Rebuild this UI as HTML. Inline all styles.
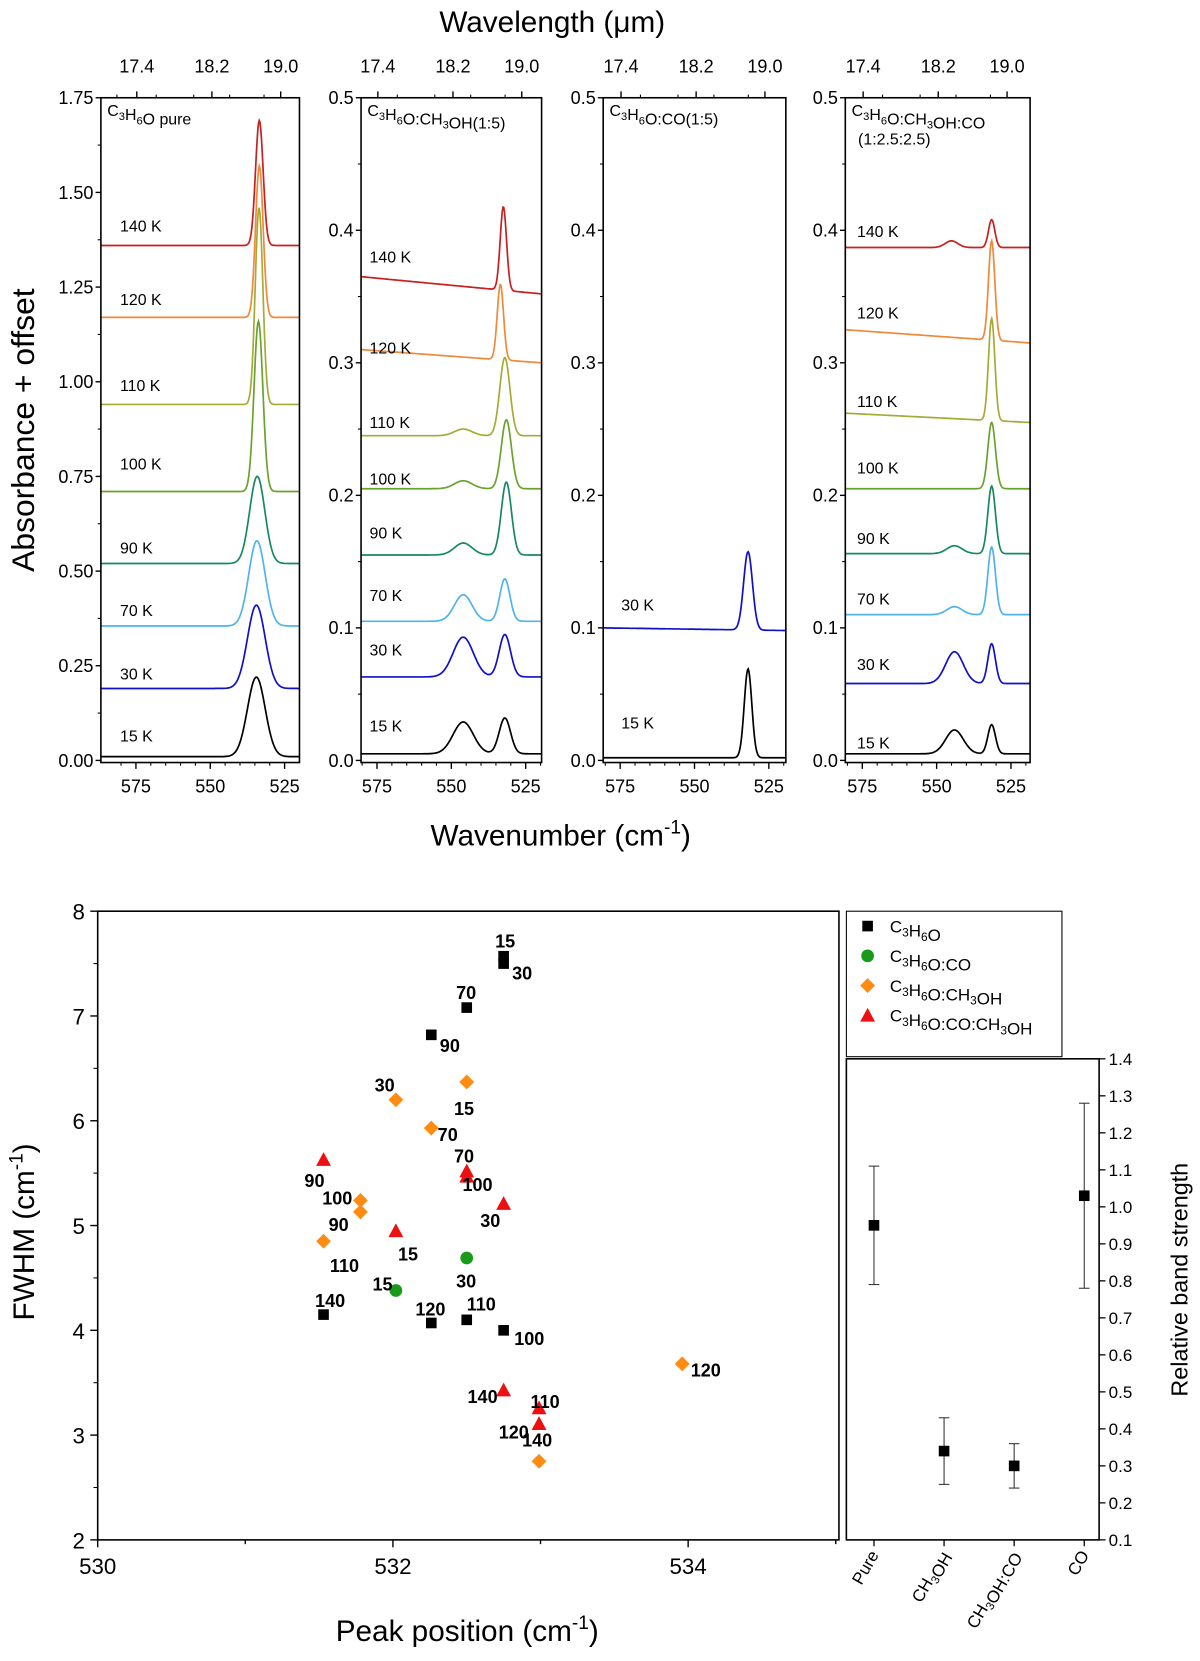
<!DOCTYPE html>
<html><head><meta charset="utf-8"><style>
html,body{margin:0;padding:0;background:#fff}
svg{display:block;font-family:"Liberation Sans",Arial,sans-serif}
</style></head><body>
<svg id="fig" width="1200" height="1661" viewBox="0 0 1130 1564">
<g id="topg"></g>
<g id="bot"></g>
</svg>
<script>
// ===== Top spectra data =====
const tempLabels=["15 K","30 K","70 K","90 K","100 K","110 K","120 K","140 K"];
const tempColors=["#000000","#1010c8","#50b4ec","#168a5e","#6aa22e","#a6ab36","#ef8a3a","#c8201e"];
// each series: [baselineLeft, baselineRight, peaks [[center,height,fwhm],...]]
const purePeaks=[[0.01,0.01,[[534.5,0.21,7]]],[0.19,0.19,[[534.5,0.22,7]]],[0.355,0.355,[[534.3,0.225,6.5]]],[0.52,0.52,[[534.2,0.23,6]]],[0.71,0.71,[[533.8,0.45,3.5]]],[0.94,0.94,[[533.6,0.52,3]]],[1.17,1.17,[[533.5,0.40,3]]],[1.36,1.36,[[533.5,0.33,3]]]];
const methPeaks=[[0.005,0.005,[[546,0.024,8],[532,0.027,4.5]]],[0.063,0.063,[[546,0.03,8],[532,0.032,4.5]]],[0.105,0.105,[[546,0.02,7],[532,0.032,4]]],[0.155,0.155,[[546,0.009,7],[531.5,0.055,4]]],[0.205,0.205,[[546,0.006,7],[531.5,0.052,4]]],[0.245,0.245,[[546,0.005,7],[532,0.059,4]]],[0.31,0.30,[[533.5,0.057,2.5]]],[0.365,0.352,[[532.5,0.063,2.5]]]];
const coPeaks=[[0.002,0.002,[[532,0.067,3]]],[0.1,0.098,[[532,0.059,3.5]]]];
const mixPeaks=[[0.005,0.005,[[544,0.018,7],[531.5,0.022,3]]],[0.058,0.058,[[544,0.024,7],[531.5,0.03,3]]],[0.11,0.11,[[544,0.006,6],[531.5,0.051,3]]],[0.156,0.156,[[544,0.006,6],[531.5,0.051,3]]],[0.205,0.205,[[531.5,0.05,3]]],[0.262,0.255,[[531.5,0.077,2.5]]],[0.325,0.315,[[531.5,0.075,2.5]]],[0.387,0.387,[[531.5,0.021,2.5],[545,0.005,5]]]];
const pureTicks=["0.00","0.25","0.50","0.75","1.00","1.25","1.50","1.75"];
const smallTicks=["0.0","0.1","0.2","0.3","0.4","0.5"];
const wnTicks=[575,550,525];
const wlTicks=[17.4,18.2,19.0];

// ===== Bottom chart data =====
const pureX=[532.75,532.75,532.5,532.26,531.53,532.26,532.5,532.75];
const pureY=[7.57,7.5,7.08,6.82,4.15,4.07,4.1,4.0];
const pureL=["15","30","70","90","140","120","110","100"];
const coX=[532.02,532.5];
const coY=[4.38,4.69];
const coL=["15","30"];
const methX=[532.5,532.02,532.26,531.78,531.78,531.53,533.96,532.99];
const methY=[6.37,6.2,5.93,5.24,5.13,4.85,3.68,2.75];
const methL=["15","30","70","100","90","110","120","140"];
const mixX=[531.53,532.5,532.5,532.75,532.02,532.75,532.99,532.99];
const mixY=[5.63,5.52,5.47,5.21,4.95,3.43,3.26,3.11];
const mixL=["90","70","100","30","15","140","110","120"];
const bandCats=["Pure","CH3OH","CH3OH:CO","CO"];
const bandVal=[0.95,0.34,0.30,1.03];
const bandHi=[1.11,0.43,0.36,1.28];
const bandLo=[0.79,0.25,0.24,0.78];

const NS="http://www.w3.org/2000/svg";
function el(tag,attrs,parent,text){const e=document.createElementNS(NS,tag);for(const k in attrs)e.setAttribute(k,attrs[k]);if(text!==undefined)e.textContent=text;parent.appendChild(e);return e;}
const topG=document.getElementById('topg'), bot=document.getElementById('bot');

// ---- top panels ----
const Y0=716, YT=92, BOXB=718;
const panelDefs=[
 {x0:95,x1:282,c550:198,max:1.75,ticks:pureTicks,data:purePeaks,temps:[0,1,2,3,4,5,6,7],lx:113,ly:[693,635,575,516,437,363,282,213],name:"panel-pure"},
 {x0:340,x1:510,c550:425,max:0.5,ticks:smallTicks,data:methPeaks,temps:[0,1,2,3,4,5,6,7],lx:348,ly:[684,612,561,502,451,398,328,242],name:"panel-ch3oh"},
 {x0:568,x1:740,c550:654,max:0.5,ticks:smallTicks,data:coPeaks,temps:[0,1],lx:585,ly:[681,570],name:"panel-co"},
 {x0:796,x1:970,c550:882,max:0.5,ticks:smallTicks,data:mixPeaks,temps:[0,1,2,3,4,5,6,7],lx:807,ly:[700,626,564,507,441,378,295,218],name:"panel-mix"}
];
const S=2.8;
panelDefs.forEach(p=>{
 const g=el('g',{},topG);
 
 
 const xs=w=>p.c550-(w-550)*S;
 const ys=v=>Y0-v/p.max*(Y0-YT);
 const wmax=550+(p.c550-p.x0)/S, wmin=550-(p.x1-p.c550)/S;
 p.data.forEach((s,i)=>{
  let d='';
  for(let w=wmax;w>=wmin;w-=0.25){
   const f=(wmax-w)/(wmax-wmin);
   let v=s[0]+(s[1]-s[0])*f;
   s[2].forEach(pk=>{const sg=pk[2]/2.3548;v+=pk[1]*Math.exp(-Math.pow(w-pk[0],2)/(2*sg*sg));});
   d+=(d?'L':'M')+xs(w).toFixed(1)+','+ys(v).toFixed(1);
  }
  const c=el('path',{d:d,fill:'none',stroke:tempColors[p.temps[i]],'stroke-width':1.6},g);
  
  
  const t=el('text',{x:p.lx,y:p.ly[i]+5,'font-size':15},g,tempLabels[p.temps[i]]);
  
  
 });
 const b=el('rect',{x:p.x0,y:YT,width:p.x1-p.x0,height:BOXB-YT,fill:'none',stroke:'#000','stroke-width':1.5},g);
 
 
 p.ticks.forEach((tl,i)=>{
  const v=parseFloat(tl), y=ys(v);
  el('line',{x1:p.x0,x2:p.x0-5,y1:y,y2:y,stroke:'#000','stroke-width':1.3},g);
  if(i<p.ticks.length-1){const ym=ys(v+p.max/(p.ticks.length-1)/2);el('line',{x1:p.x0,x2:p.x0-3,y1:ym,y2:ym,stroke:'#000','stroke-width':1},g);}
  const t=el('text',{x:p.x0-7,y:y+6,'font-size':17,'text-anchor':'end'},g,tl);
  
  
 });
 wnTicks.forEach(w=>{
  const x=xs(w);
  el('line',{x1:x,x2:x,y1:BOXB,y2:BOXB+6,stroke:'#000','stroke-width':1.3},g);
  const t=el('text',{x:x,y:BOXB+28,'font-size':17,'text-anchor':'middle'},g,String(w));
  
  
 });
 for(let w=580;w>=520;w-=5){const x=xs(w);if(x>p.x0&&x<p.x1&&w%25)el('line',{x1:x,x2:x,y1:BOXB,y2:BOXB+3,stroke:'#000','stroke-width':1},g);}
 wlTicks.forEach(l=>{
  const x=xs(10000/l);
  el('line',{x1:x,x2:x,y1:YT,y2:YT-6,stroke:'#000','stroke-width':1.3},g);
  const t=el('text',{x:x,y:YT-24,'font-size':17,'text-anchor':'middle'},g,l.toFixed(1));
  
  
 });
 for(let l=17.2;l<=19.1;l+=0.4){const x=xs(10000/l);if(x>p.x0&&x<p.x1)el('line',{x1:x,x2:x,y1:YT,y2:YT-3,stroke:'#000','stroke-width':1},g);}
});
function sub(parent,x,y,parts,fs,name){
 const t=el('text',{x:x,y:y,'font-size':fs},parent);
 
 
 parts.forEach(pt=>{if(pt[1]){el('tspan',{'font-size':fs*0.7,dy:4},t,pt[0]);el('tspan',{dy:-4},t,'');}else el('tspan',{},t,pt[0]);});
 return t;}
sub(topG,101,109,[["C"],["3",1],["H"],["6",1],["O pure"]],15,'panel-title-pure');
sub(topG,346,109,[["C"],["3",1],["H"],["6",1],["O:CH"],["3",1],["OH(1:5)"]],15,'panel-title-ch3oh');
sub(topG,574,109,[["C"],["3",1],["H"],["6",1],["O:CO(1:5)"]],15,'panel-title-co');
sub(topG,802,109,[["C"],["3",1],["H"],["6",1],["O:CH"],["3",1],["OH:CO"]],15,'panel-title-mix');
(function(){const t=el('text',{x:808,y:136,'font-size':15},topG,'(1:2.5:2.5)');})();
(function(){
 let t=el('text',{x:520,y:30,'font-size':28,'text-anchor':'middle'},topG,'Wavelength (μm)');
 t=el('text',{x:0,y:0,'font-size':30,'text-anchor':'middle',transform:'translate(32,405) rotate(-90)'},topG,'Absorbance + offset');
 t=el('text',{x:528,y:796,'font-size':28,'text-anchor':'middle'},topG);
 el('tspan',{},t,'Wavenumber (cm');el('tspan',{dy:-11,'font-size':18},t,'-1');el('tspan',{dy:11},t,')');
})();

// ---- bottom chart ----
const BX0=92,BX1=787,BY0=858,BY1=1450;
const bx=v=>BX0+(v-530)*139;
const by=v=>BY1-(v-2)*98.67;
(function(){
 const f=el('rect',{x:BX0,y:BY0,width:BX1-BX0+3,height:BY1-BY0,fill:'none',stroke:'#000','stroke-width':1.5},bot);
 
 for(let v=2;v<=8;v++){const y=by(v);el('line',{x1:BX0,x2:BX0-7,y1:y,y2:y,stroke:'#000','stroke-width':1.3},bot);
  if(v<8){const ym=by(v+0.5);el('line',{x1:BX0,x2:BX0-4,y1:ym,y2:ym,stroke:'#000','stroke-width':1},bot);}
  const t=el('text',{x:BX0-12,y:y+8,'font-size':21,'text-anchor':'end'},bot,String(v));}
 for(let v=530;v<=535;v++){const x=bx(v);el('line',{x1:x,x2:x,y1:BY1,y2:BY1+(v%2?4:7),stroke:'#000','stroke-width':1.3},bot);
  if(v%2===0){const t=el('text',{x:x,y:BY1+32,'font-size':21,'text-anchor':'middle'},bot,String(v));}}
 let t=el('text',{x:0,y:0,'font-size':28,'text-anchor':'middle',transform:'translate(32,1160) rotate(-90)'},bot);
 el('tspan',{},t,'FWHM (cm');el('tspan',{dy:-11,'font-size':18},t,'-1');el('tspan',{dy:11},t,')');
 t=el('text',{x:440,y:1545,'font-size':28,'text-anchor':'middle'},bot);
 el('tspan',{},t,'Peak position (cm');el('tspan',{dy:-11,'font-size':18},t,'-1');el('tspan',{dy:11},t,')');
})();
function marker(kind,x,y,parent){
 if(kind==='sq')return el('rect',{x:x-5,y:y-5,width:10,height:10,fill:'#000'},parent);
 if(kind==='ci')return el('circle',{cx:x,cy:y,r:6,fill:'#1a9a1a'},parent);
 if(kind==='di')return el('path',{d:`M${x},${y-7}L${x+7},${y}L${x},${y+7}L${x-7},${y}Z`,fill:'#ff8c10'},parent);
 return el('path',{d:`M${x},${y-7}L${x+7},${y+6}L${x-7},${y+6}Z`,fill:'#ee1010'},parent);
}
// label offsets (dx,dy) for annotation placement
const pureOff=[[-8,-14],[8,9],[-10,-14],[8,10],[-8,-13],[-15,-13],[0,-15],[10,8]];
const coOff=[[-22,-6],[-10,22]];
const methOff=[[-12,25],[-20,-14],[6,6],[-36,-2],[-30,12],[6,23],[8,6],[-16,-20]];
const mixOff=[[-18,20],[-12,-14],[-4,8],[-22,16],[2,22],[-34,6],[-8,-6],[-38,8]];
function series(X,Y,L,O,kind,name){
 const g=el('g',{},bot);
 X.forEach((v,i)=>{const x=bx(v),y=by(Y[i]);const m=marker(kind,x,y,g);
  const t=el('text',{x:x+O[i][0],y:y+O[i][1]+6,'font-size':17,'font-weight':'bold'},g,L[i]);});
}
series(pureX,pureY,pureL,pureOff,'sq','series-c3h6o');
series(coX,coY,coL,coOff,'ci','series-c3h6o-co');
series(methX,methY,methL,methOff,'di','series-c3h6o-ch3oh');
series(mixX,mixY,mixL,mixOff,'tr','series-c3h6o-co-ch3oh');
(function(){
 const g=el('g',{},bot);
 el('rect',{x:797,y:858,width:203,height:137,fill:'#fff',stroke:'#000','stroke-width':1},g);
 const kinds=['sq','ci','di','tr'];
 const texts=[[["C"],["3",1],["H"],["6",1],["O"]],[["C"],["3",1],["H"],["6",1],["O:CO"]],[["C"],["3",1],["H"],["6",1],["O:CH"],["3",1],["OH"]],[["C"],["3",1],["H"],["6",1],["O:CO:CH"],["3",1],["OH"]]];
 kinds.forEach((k,i)=>{const y=872+i*28;marker(k,817,y,g);sub(g,838,y+6,texts[i],16,'legend-entry');});
})();
(function(){
 const g=el('g',{},bot);
 const IX0=797,IX1=1035,IY0=997,IY1=1450;
 const iy=v=>IY1-(v-0.1)*(IY1-IY0)/1.3;
 const ix=i=>823+i*66;
 el('rect',{x:IX0,y:IY0,width:IX1-IX0,height:IY1-IY0,fill:'none',stroke:'#000','stroke-width':1.5},g);
 for(let k=1;k<=14;k++){const v=k/10,y=iy(v);el('line',{x1:IX1,x2:IX1+6,y1:y,y2:y,stroke:'#000','stroke-width':1.2},g);
  const t=el('text',{x:IX1+9,y:y+6,'font-size':16},g,v.toFixed(1));}
 bandCats.forEach((c,i)=>{const x=ix(i);
  el('line',{x1:x,x2:x,y1:IY1,y2:IY1+6,stroke:'#000','stroke-width':1.2},g);
  el('line',{x1:x,x2:x,y1:iy(bandHi[i]),y2:iy(bandLo[i]),stroke:'#333','stroke-width':1},g);
  el('line',{x1:x-5,x2:x+5,y1:iy(bandHi[i]),y2:iy(bandHi[i]),stroke:'#333','stroke-width':1},g);
  el('line',{x1:x-5,x2:x+5,y1:iy(bandLo[i]),y2:iy(bandLo[i]),stroke:'#333','stroke-width':1},g);
  const m=el('rect',{x:x-5,y:iy(bandVal[i])-5,width:10,height:10,fill:'#000'},g);
  const t=el('text',{x:0,y:0,'font-size':16,'text-anchor':'end',transform:`translate(${x+5},${IY1+14}) rotate(-60)`},g);
  c.split(/(3)/).forEach(s=>{if(s==='3'){el('tspan',{dy:4,'font-size':11},t,'3');el('tspan',{dy:-4},t,'');}else if(s)el('tspan',{},t,s);});
 });
 const t=el('text',{x:0,y:0,'font-size':22,'text-anchor':'middle',transform:'translate(1118,1205) rotate(-90)'},g,'Relative band strength');
})();
</script>
</body></html>
